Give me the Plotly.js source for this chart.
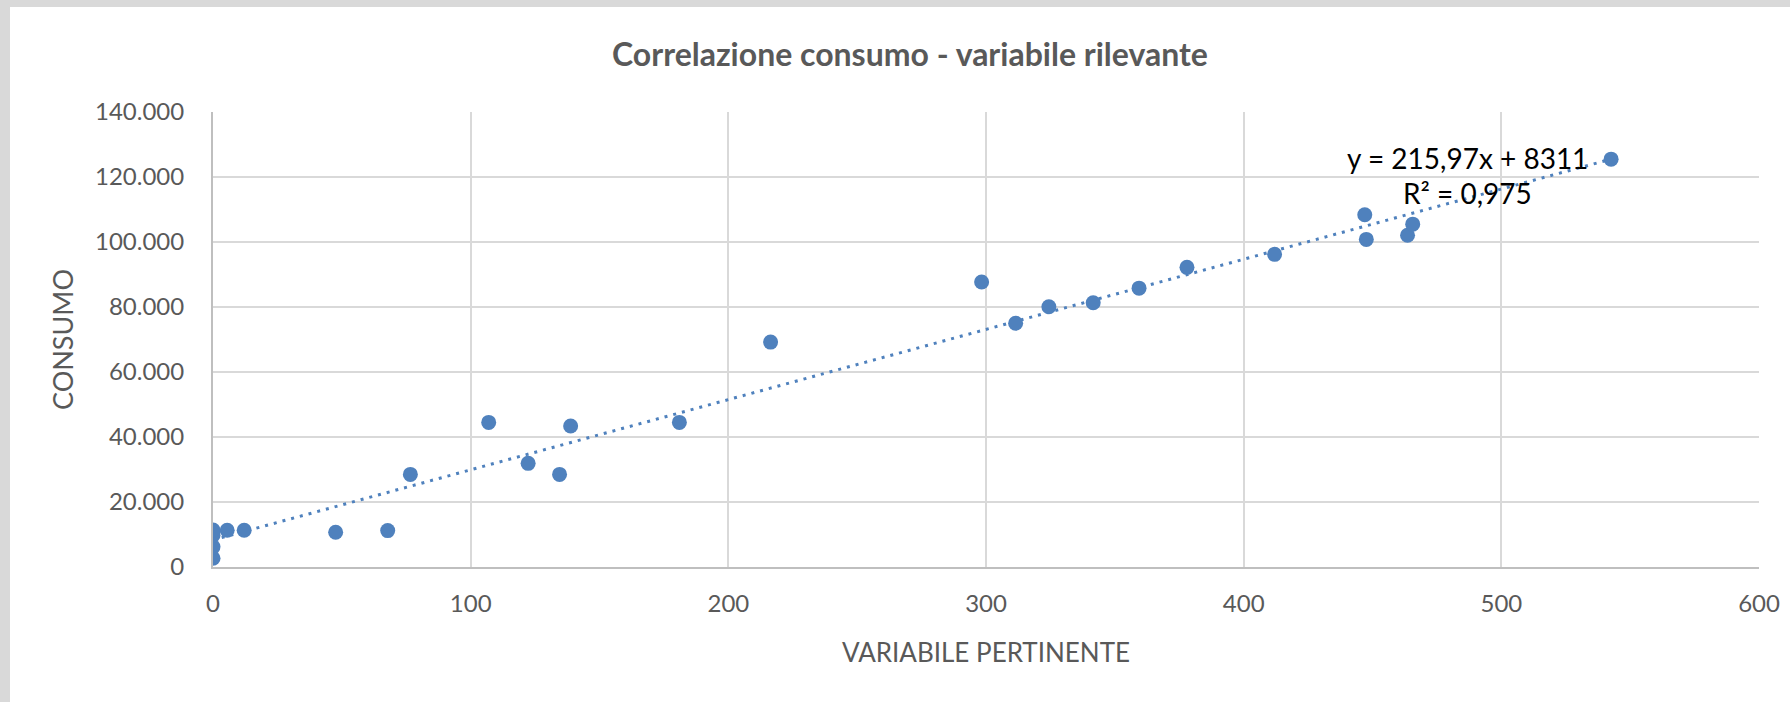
<!DOCTYPE html>
<html>
<head>
<meta charset="utf-8">
<script src="https://cdn.plot.ly/plotly-3.0.1.min.js"></script>
<style>
  html, body { margin: 0; padding: 0; background: #ffffff; width: 100%; height: 100%; overflow: hidden; }
  #topbar { position: absolute; left: 0; top: 0; width: 100%; height: 7px; background: #d9d9d9; z-index: 2; }
  #leftbar { position: absolute; left: 0; top: 0; width: 10px; height: 100%; background: #d9d9d9; z-index: 2; }
  #chart { position: absolute; left: 10px; top: 7px; width: 1780px; height: 695px; background: #fff; }
</style>
</head>
<body>
<div id="topbar"></div>
<div id="leftbar"></div>
<div id="chart"></div>
<script>
// Data
const variabilePertinente = [0, 0, 0, 0, 5.5, 12.1, 47.6, 67.8, 76.6, 107, 122.3, 134.5, 138.8, 181, 216.4,
  298.3, 311.5, 324.4, 341.6, 359.4, 378, 412, 447, 447.6, 463.6, 465.6, 542.6];
const consumo = [2700, 6200, 9800, 11400, 11300, 11300, 10700, 11200, 28500, 44500, 31900, 28500, 43400, 44500, 69200,
  87700, 75000, 80100, 81300, 85800, 92200, 96200, 108400, 100800, 102100, 105500, 125500];

// Trendline (linear) as reported on the chart
const slope = 215.97;
const intercept = 8311;
const eqLabel = "y = 215,97x + 8311";
const r2Label = "R² = 0,975";

const chartTitle = "Correlazione consumo - variabile rilevante";
const xTitle = "VARIABILE PERTINENTE";
const yTitle = "CONSUMO";
const xTicks = [0, 100, 200, 300, 400, 500, 600];
const yTicks = [0, 20000, 40000, 60000, 80000, 100000, 120000, 140000];

const xMin = Math.min(...variabilePertinente);
const xMax = Math.max(...variabilePertinente);
const trendX = [xMin, xMax];
const trendY = trendX.map(v => slope * v + intercept);

const FONT = "Lato, 'Open Sans', sans-serif";
const GREY = "#595959";
const BLUE = "#4f81bd";

const traces = [
  {
    x: trendX, y: trendY, type: "scatter", mode: "lines",
    line: { color: BLUE, width: 3, dash: "3px,6px" },
    hoverinfo: "skip", showlegend: false
  },
  {
    x: variabilePertinente, y: consumo, type: "scatter", mode: "markers",
    marker: { color: BLUE, size: 15 },
    showlegend: false
  }
];

const layout = {
  width: 1780, height: 695,
  margin: { l: 203, r: 31, t: 105, b: 135 },
  paper_bgcolor: "#ffffff",
  plot_bgcolor: "#ffffff",
  separators: ",.",
  showlegend: false,
  font: { family: FONT, color: GREY, size: 24 },
  title: {
    text: "<b>" + chartTitle + "</b>",
    font: { family: FONT, size: 32, color: GREY },
    x: 0.5056, xref: "container", xanchor: "center",
    y: 1 - 48 / 695, yref: "container", yanchor: "middle"
  },
  xaxis: {
    range: [0, 600],
    tickvals: xTicks,
    ticktext: xTicks.map(String),
    showgrid: true, gridcolor: "#d9d9d9", gridwidth: 2,
    zeroline: false,
    showline: true, linecolor: "#bfbfbf", linewidth: 2,
    ticks: "", ticklabelstandoff: 14,
    tickfont: { family: FONT, size: 24, color: GREY },
    title: { text: xTitle, font: { family: FONT, size: 26, color: GREY }, standoff: 28 }
  },
  yaxis: {
    range: [0, 140000],
    tickvals: yTicks,
    tickformat: ",d",
    showgrid: true, gridcolor: "#d9d9d9", gridwidth: 2,
    zeroline: false,
    showline: true, linecolor: "#bfbfbf", linewidth: 2,
    ticks: "", ticklabelstandoff: 22,
    tickfont: { family: FONT, size: 24, color: GREY },
    title: { text: yTitle, font: { family: FONT, size: 27, color: GREY }, standoff: 14 }
  },
  annotations: [
    {
      x: 486.7, y: 126000, xref: "x", yref: "y",
      text: eqLabel, showarrow: false, xanchor: "center", yanchor: "middle",
      font: { family: FONT, size: 28, color: "#000000" }
    },
    {
      x: 486.7, y: 115000, xref: "x", yref: "y",
      text: r2Label, showarrow: false, xanchor: "center", yanchor: "middle",
      font: { family: FONT, size: 28, color: "#000000" }
    }
  ]
};

Plotly.newPlot("chart", traces, layout, { displayModeBar: false, staticPlot: true });
</script>
</body>
</html>
